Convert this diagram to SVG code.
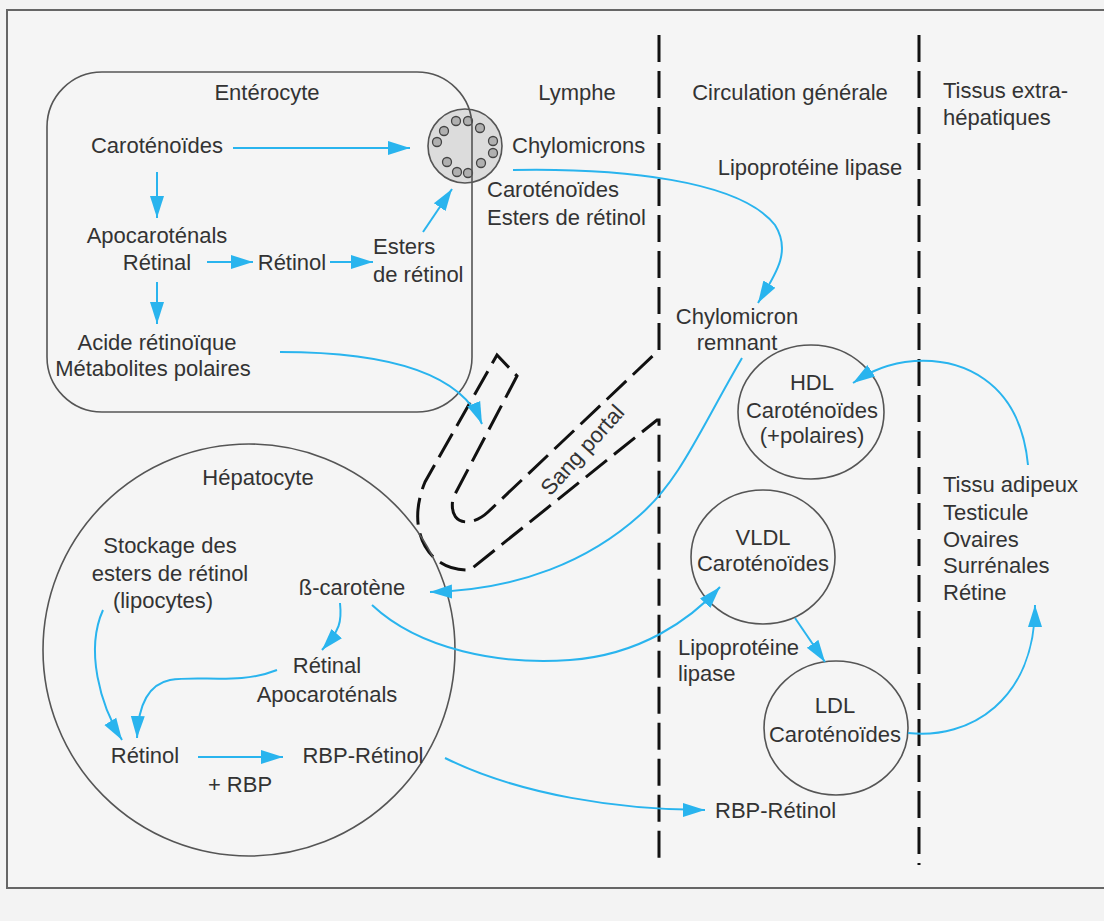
<svg xmlns="http://www.w3.org/2000/svg" width="1104" height="921" viewBox="0 0 1104 921">
<defs>
<style>
text{font-family:"Liberation Sans",Arial,sans-serif;font-size:22px;fill:#333}
.c{text-anchor:middle}
.cell{fill:none;stroke:#555;stroke-width:1.6}
.b{fill:none;stroke:#29b4ee;stroke-width:2}
.zone{fill:none;stroke:#111;stroke-width:3;stroke-dasharray:27 9}
.tube{fill:none;stroke:#222;stroke-width:2.5;stroke-dasharray:20 10}
.dot{fill:#b0b0b0;stroke:#444;stroke-width:1.3}
</style>
<marker id="ah" viewBox="0 0 22 16" refX="22" refY="8" markerWidth="22" markerHeight="16" markerUnits="userSpaceOnUse" orient="auto">
<path d="M0,1 L22,8 L0,15 Z" fill="#29b4ee"/>
</marker>
</defs>
<rect width="1104" height="921" fill="#f3f3f3"/>
<rect x="7" y="10" width="1110" height="878" fill="#f5f5f5" stroke="#666" stroke-width="2"/>

<g id="zones">
<path class="zone" d="M659,35 V350 L488,512 C472,527 448,527 453,498 L517,376 L497,355 L425,482 C405,530 428,572 470,570 L657,420 L659,420 V865"/>
<line class="zone" x1="919" y1="35" x2="919" y2="865"/>
<text class="c" transform="translate(588,455) rotate(-48)">Sang portal</text>
</g>

<g id="chylomicron-particle">
<circle cx="465" cy="146" r="37" fill="#dcdcdc" stroke="#555" stroke-width="1.6"/>
<circle class="dot" cx="456" cy="121" r="4.5"/>
<circle class="dot" cx="468" cy="121" r="4.5"/>
<circle class="dot" cx="480" cy="128" r="4.5"/>
<circle class="dot" cx="444" cy="131" r="4.5"/>
<circle class="dot" cx="437" cy="142" r="4.5"/>
<circle class="dot" cx="493" cy="141" r="4.5"/>
<circle class="dot" cx="493" cy="153" r="4.5"/>
<circle class="dot" cx="447" cy="162" r="4.5"/>
<circle class="dot" cx="481" cy="163" r="4.5"/>
<circle class="dot" cx="457" cy="172" r="4.5"/>
<circle class="dot" cx="468" cy="173" r="4.5"/>
</g>

<g id="enterocyte">
<rect class="cell" x="47" y="72" width="425" height="340" rx="55"/>
<text class="c" x="267" y="100">Entérocyte</text>
<text class="c" x="157" y="153">Caroténoïdes</text>
<text class="c" x="157" y="243">Apocaroténals</text>
<text class="c" x="157" y="270">Rétinal</text>
<text class="c" x="292" y="270">Rétinol</text>
<text x="373" y="254">Esters</text>
<text x="373" y="282">de rétinol</text>
<text class="c" x="157" y="350">Acide rétinoïque</text>
<text class="c" x="153" y="376">Métabolites polaires</text>
</g>

<g id="lymphe">
<text class="c" x="577" y="100">Lymphe</text>
<text x="512" y="153">Chylomicrons</text>
<text x="487" y="197">Caroténoïdes</text>
<text x="487" y="225">Esters de rétinol</text>
</g>

<g id="circulation">
<text class="c" x="790" y="100">Circulation générale</text>
<text class="c" x="810" y="175">Lipoprotéine lipase</text>
<text class="c" x="737" y="324">Chylomicron</text>
<text class="c" x="737" y="350">remnant</text>
<text x="678" y="655">Lipoprotéine</text>
<text x="678" y="681">lipase</text>
<text x="715" y="818">RBP-Rétinol</text>
</g>

<g id="hdl">
<ellipse class="cell" cx="811" cy="412" rx="73" ry="67"/>
<text class="c" x="812" y="390">HDL</text>
<text class="c" x="812" y="418">Caroténoïdes</text>
<text class="c" x="812" y="443">(+polaires)</text>
</g>

<g id="vldl">
<ellipse class="cell" cx="763" cy="557" rx="72" ry="67"/>
<text class="c" x="763" y="545">VLDL</text>
<text class="c" x="763" y="571">Caroténoïdes</text>
</g>

<g id="ldl">
<ellipse class="cell" cx="836" cy="728" rx="72" ry="67"/>
<text class="c" x="835" y="713">LDL</text>
<text class="c" x="835" y="742">Caroténoïdes</text>
</g>

<g id="tissus">
<text x="943" y="98">Tissus extra-</text>
<text x="943" y="125">hépatiques</text>
<text x="943" y="492">Tissu adipeux</text>
<text x="943" y="520">Testicule</text>
<text x="943" y="547">Ovaires</text>
<text x="943" y="573">Surrénales</text>
<text x="943" y="600">Rétine</text>
</g>

<g id="hepatocyte">
<circle class="cell" cx="249" cy="650" r="206"/>
<text class="c" x="258" y="485">Hépatocyte</text>
<text class="c" x="170" y="553">Stockage des</text>
<text class="c" x="170" y="581">esters de rétinol</text>
<text class="c" x="163" y="608">(lipocytes)</text>
<text class="c" x="352" y="595">ß-carotène</text>
<text class="c" x="327" y="673">Rétinal</text>
<text class="c" x="327" y="702">Apocaroténals</text>
<text class="c" x="145" y="763">Rétinol</text>
<text class="c" x="363" y="763">RBP-Rétinol</text>
<text class="c" x="240" y="792">+ RBP</text>
</g>

<g id="connectors" marker-end="url(#ah)">
<path class="b" marker-end="url(#ah)" d="M233,148 L410,148"/>
<path class="b" marker-end="url(#ah)" d="M157,172 L157,218"/>
<path class="b" marker-end="url(#ah)" d="M157,282 L157,324"/>
<path class="b" marker-end="url(#ah)" d="M207,262 L253,262"/>
<path class="b" marker-end="url(#ah)" d="M330,262 L373,262"/>
<path class="b" marker-end="url(#ah)" d="M423,232 L452,189"/>
<path class="b" marker-end="url(#ah)" d="M280,352 C380,352 460,370 482,424"/>
<path class="b" marker-end="url(#ah)" d="M513,170 C620,168 740,180 775,225 C792,252 775,275 758,303"/>
<path class="b" marker-end="url(#ah)" d="M742,358 C700,430 680,480 640,515 C590,560 520,590 430,592"/>
<path class="b" marker-end="url(#ah)" d="M372,605 C420,650 500,665 570,660 C640,655 690,620 720,587"/>
<path class="b" marker-end="url(#ah)" d="M340,603 C342,622 340,630 322,650"/>
<path class="b" marker-end="url(#ah)" d="M277,670 C240,685 200,675 170,680 C145,685 138,710 137,738"/>
<path class="b" marker-end="url(#ah)" d="M103,610 C85,650 100,705 122,740"/>
<path class="b" marker-end="url(#ah)" d="M198,757 L283,757"/>
<path class="b" marker-end="url(#ah)" d="M445,758 C520,795 620,810 705,810"/>
<path class="b" marker-end="url(#ah)" d="M795,618 L825,662"/>
<path class="b" marker-end="url(#ah)" d="M908,733 C970,740 1035,700 1035,605"/>
<path class="b" marker-end="url(#ah)" d="M1028,465 C1020,380 960,355 905,362 C880,366 865,375 853,383"/>
</g>
</svg>
